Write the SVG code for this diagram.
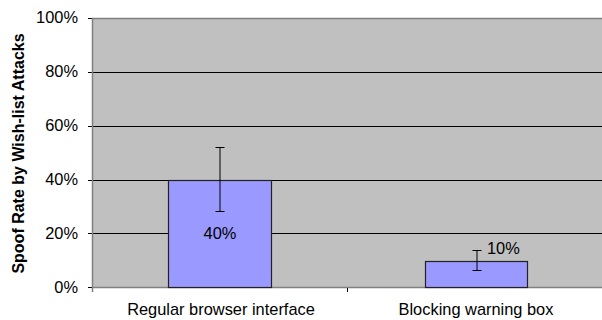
<svg xmlns="http://www.w3.org/2000/svg" width="602" height="320" viewBox="0 0 602 320">
<style>
.t{font-family:"Liberation Sans",Arial,sans-serif;font-size:16.4px;fill:#000}
.grid{stroke:#000;stroke-width:1}
.ax{stroke:#808080;stroke-width:1.5}
.bar{fill:#9999FF;stroke:#222;stroke-width:1.2}
.err{stroke:#000;stroke-width:1;fill:none}
</style>
<rect x="92" y="18" width="510" height="270" fill="#C0C0C0"/>
<g id="gridlines">
<line class="grid" x1="88" y1="72.5" x2="602" y2="72.5"/>
<line class="grid" x1="88" y1="126.5" x2="602" y2="126.5"/>
<line class="grid" x1="88" y1="180.5" x2="602" y2="180.5"/>
<line class="grid" x1="88" y1="233.5" x2="602" y2="233.5"/>
<line class="grid" x1="88" y1="18.5" x2="92" y2="18.5"/>
<line class="grid" x1="88" y1="287.5" x2="92" y2="287.5"/>
</g>
<g id="axes">
<line class="ax" x1="92" y1="18.5" x2="602" y2="18.5"/>
<line class="ax" x1="92" y1="287.5" x2="602" y2="287.5"/>
<line class="ax" x1="92.5" y1="18" x2="92.5" y2="292"/>
<line class="grid" x1="347.5" y1="288" x2="347.5" y2="292"/>
</g>
<g id="ticklabels">
<text class="t" x="78" y="23" text-anchor="end">100%</text>
<text class="t" x="78" y="77" text-anchor="end">80%</text>
<text class="t" x="78" y="131" text-anchor="end">60%</text>
<text class="t" x="78" y="185" text-anchor="end">40%</text>
<text class="t" x="78" y="239" text-anchor="end">20%</text>
<text class="t" x="78" y="293" text-anchor="end">0%</text>
</g>
<g id="bar1">
<rect class="bar" x="168.5" y="180.5" width="103" height="107"/>
<path class="err" d="M220 147V212M215.5 147.5H224.5M215.5 211.5H224.5"/>
<text class="t" x="220" y="239" text-anchor="middle">40%</text>
</g>
<g id="bar2">
<rect class="bar" x="425.5" y="261.5" width="102" height="26"/>
<path class="err" d="M477 250V271M472.5 250.5H481.5M472.5 270.5H481.5"/>
<text class="t" x="487" y="254">10%</text>
</g>
<g id="categories">
<text class="t" x="221" y="315" text-anchor="middle">Regular browser interface</text>
<text class="t" x="476" y="315" text-anchor="middle">Blocking warning box</text>
</g>
<text class="t" transform="translate(24 153.5) rotate(-90)" text-anchor="middle" style="font-weight:bold;font-size:16px">Spoof Rate by Wish-list Attacks</text>
</svg>
